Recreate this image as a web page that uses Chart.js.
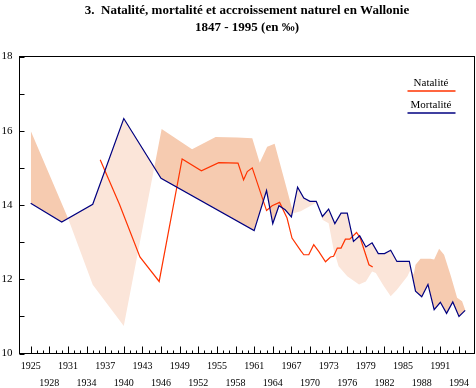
<!DOCTYPE html>
<html>
<head>
<meta charset="utf-8">
<script src="https://cdn.jsdelivr.net/npm/chart.js@4.4.0/dist/chart.umd.min.js"></script>
<style>
    html, body { margin: 0; padding: 0; background: #fff; }
</style>
</head>
<body>
<canvas id="chart" width="476" height="388"></canvas>
<script>
// Mortalité (trait bleu)
const mortYears = [1925, 1930, 1935, 1940, 1946, 1961, 1963, 1964, 1965, 1966, 1967, 1968, 1969, 1970, 1971,
    1972, 1973, 1974, 1975, 1976, 1977, 1978, 1979, 1980, 1981, 1982, 1983, 1984, 1985, 1986, 1987, 1988,
    1989, 1990, 1991, 1992, 1993, 1994, 1995];
const mortValues = [14.05, 13.54, 14.02, 16.33, 14.72, 13.31, 14.39, 13.5, 13.98, 13.87, 13.68, 14.48, 14.19, 14.1, 14.1,
    13.69, 13.89, 13.5, 13.78, 13.78, 13.02, 13.17, 12.87, 12.98, 12.69, 12.69, 12.78, 12.48, 12.48, 12.48, 11.68, 11.53,
    11.86, 11.18, 11.38, 11.08, 11.39, 11.0, 11.16];

// Natalité (trait rouge)
const natYears = [1936.2, 1939.3, 1942.6, 1945.7, 1949.4, 1952.5, 1955.3, 1958.4, 1959.3, 1959.9, 1960.7, 1963, 1963.9,
    1965.1, 1966.3, 1967.1, 1968.5, 1969, 1969.8, 1970.6, 1971.4, 1972.5, 1973.3, 1973.8, 1974.4, 1975, 1975.7,
    1976.4, 1977.5, 1978.1, 1979.5, 1980.1];
const natValues = [15.22, 14.02, 12.6, 11.94, 15.24, 14.92, 15.14, 15.13, 14.68, 14.9, 15.0, 13.85, 13.98,
    14.07, 13.65, 13.11, 12.77, 12.66, 12.66, 12.93, 12.75, 12.47, 12.6, 12.62, 12.84, 12.84, 13.08,
    13.08, 13.26, 13.11, 12.39, 12.33];

// Limite de la zone d'accroissement naturel (surface entre natalité et mortalité)
const areaYears = [1925, 1931, 1935, 1940, 1946.1, 1951, 1954.8, 1958.3, 1960.7, 1961.9, 1963.1, 1964.3, 1966.3,
    1967.3, 1968.5, 1971.2, 1972, 1973, 1973.8, 1974.6, 1976, 1977.9, 1979, 1980, 1980.6, 1981.9, 1983, 1984,
    1985.7, 1986.2, 1986.7, 1987, 1987.8, 1989.4, 1990, 1990.8, 1991.6, 1992.7, 1993.7, 1994.5, 1995];
const areaValues = [16.0, 13.65, 11.85, 10.74, 16.05, 15.5, 15.83, 15.82, 15.8, 15.14, 15.57, 15.65, 14.41,
    13.78, 13.83, 14.08, 13.6, 13.51, 12.8, 12.35, 12.08, 11.86, 11.94, 12.21, 12.17, 11.81, 11.54, 11.72,
    12.08, 12.26, 12.12, 12.39, 12.55, 12.55, 12.53, 12.82, 12.66, 12.08, 11.5, 11.41, 11.17];

const labelYears = [1925, 1928, 1931, 1934, 1937, 1940, 1943, 1946, 1949, 1952, 1955, 1958, 1961, 1964, 1967,
    1970, 1973, 1976, 1979, 1982, 1985, 1988, 1991, 1994];
const yLabels = [10, 12, 14, 16, 18];

const legendItems = ['Natalité', 'Mortalité'];
const legendColors = ['#ff3300', '#000080'];

const SERIF = "'Liberation Serif', 'Times New Roman', serif";
const toPoints = (xs, ys) => xs.map((x, i) => ({ x, y: ys[i] }));

// cadre, graduations et légende dessinés à la main
const framePlugin = {
    id: 'frame',
    afterDraw(chart) {
        const { ctx, chartArea: a, scales: { x, y } } = chart;
        ctx.save();
        ctx.strokeStyle = '#000';
        ctx.lineWidth = 1;
        ctx.strokeRect(a.left, a.top, a.right - a.left, a.bottom - a.top);

        ctx.beginPath();
        for (let yr = 1925; yr <= 1995; yr++) {
            const px = Math.round(x.getPixelForValue(yr)) + 0.5;
            const len = labelYears.includes(yr) ? 7 : 3;
            ctx.moveTo(px, a.bottom);
            ctx.lineTo(px, a.bottom - len);
        }
        for (let v = 10; v <= 18; v++) {
            const py = Math.round(y.getPixelForValue(v)) + 0.5;
            ctx.moveTo(a.left, py);
            ctx.lineTo(a.left + 5, py);
        }
        ctx.stroke();

        // légende
        ctx.font = '11px ' + SERIF;
        ctx.textAlign = 'center';
        ctx.textBaseline = 'middle';
        legendItems.forEach((txt, i) => {
            const cy = a.top + 27 + i * 22;
            ctx.fillStyle = '#000';
            ctx.fillText(txt, a.right - 43.5, cy);
            ctx.strokeStyle = legendColors[i];
            ctx.lineWidth = 1.5;
            ctx.beginPath();
            ctx.moveTo(a.right - 67, cy + 7.5);
            ctx.lineTo(a.right - 19, cy + 7.5);
            ctx.stroke();
        });
        ctx.restore();
    }
};

new Chart(document.getElementById('chart'), {
    type: 'line',
    data: {
        datasets: [
            {
                label: 'Mortalité',
                data: toPoints(mortYears, mortValues),
                borderColor: '#000080',
                borderWidth: 1.2,
                pointRadius: 0,
                tension: 0,
                fill: false
            },
            {
                label: 'Natalité',
                data: toPoints(natYears, natValues),
                borderColor: '#ff3300',
                borderWidth: 1.2,
                pointRadius: 0,
                tension: 0,
                fill: false
            },
            {
                label: 'zone',
                data: toPoints(areaYears, areaValues),
                borderColor: 'rgba(0,0,0,0)',
                borderWidth: 0,
                pointRadius: 0,
                tension: 0,
                fill: { target: 0, above: '#f6cbb0', below: '#fbe5d9' }
            }
        ]
    },
    options: {
        responsive: false,
        animation: false,
        layout: { padding: { left: 0, right: 1.5, top: 0, bottom: 0 } },
        plugins: {
            legend: { display: false },
            tooltip: { enabled: false },
            title: {
                display: true,
                fullSize: false,
                text: ['3.  Natalité, mortalité et accroissement naturel en Wallonie', '1847 - 1995 (en ‰)'],
                color: '#000',
                font: { family: SERIF, size: 13, weight: 'bold', lineHeight: 1.3 },
                padding: { top: 2, bottom: 20.7 }
            }
        },
        scales: {
            x: {
                type: 'linear',
                min: 1923.2,
                max: 1996.5,
                afterBuildTicks: s => { s.ticks = labelYears.map(v => ({ value: v })); },
                afterFit: s => { s.height = 34.5; },
                grid: { display: false, drawTicks: false },
                border: { display: false },
                ticks: {
                    autoSkip: false,
                    maxRotation: 0,
                    padding: 5,
                    color: '#000',
                    font: { family: SERIF, size: 10, lineHeight: 1.65 },
                    callback: v => ((v - 1925) % 6 === 0 ? String(v) : ['', String(v)])
                }
            },
            y: {
                min: 10,
                max: 18,
                afterBuildTicks: s => { s.ticks = yLabels.map(v => ({ value: v })); },
                afterFit: s => { s.width = 19.5; },
                grid: { display: false, drawTicks: false },
                border: { display: false },
                ticks: {
                    padding: 7,
                    color: '#000',
                    font: { family: SERIF, size: 11 }
                }
            }
        }
    },
    plugins: [framePlugin]
});
</script>
</body>
</html>
